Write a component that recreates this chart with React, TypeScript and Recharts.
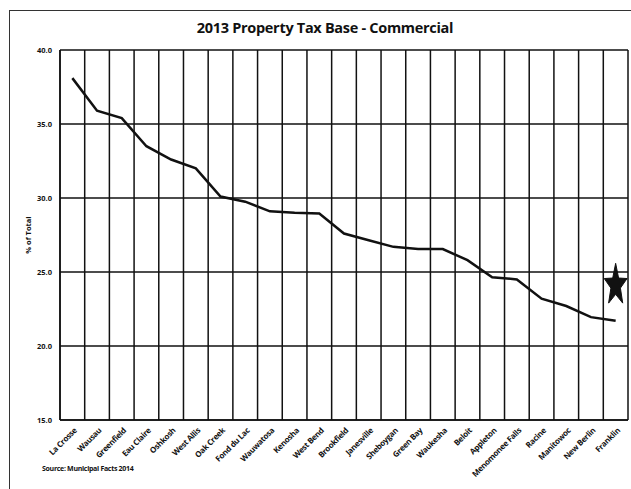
import React from 'react';
import { ComposedChart, Line, Scatter, XAxis, YAxis, CartesianGrid } from 'recharts';

const cities = ['La Crosse', 'Wausau', 'Greenfield', 'Eau Claire', 'Oshkosh', 'West Allis', 'Oak Creek', 'Fond du Lac', 'Wauwatosa', 'Kenosha', 'West Bend', 'Brookfield', 'Janesville', 'Sheboygan', 'Green Bay', 'Waukesha', 'Beloit', 'Appleton', 'Menomonee Falls', 'Racine', 'Manitowoc', 'New Berlin', 'Franklin'];
const commercialPct = [38.1, 35.9, 35.4, 33.5, 32.6, 32.0, 30.1, 29.75, 29.1, 29.0, 28.95, 27.6, 27.15, 26.7, 26.55, 26.55, 25.8, 24.65, 24.5, 23.2, 22.7, 21.95, 21.7];
const starMarker = [null, null, null, null, null, null, null, null, null, null, null, null, null, null, null, null, null, null, null, null, null, null, 24.1];
const yTicks = [15, 20, 25, 30, 35, 40];

const data = cities.map((c, i) => ({ city: c, value: commercialPct[i], star: starMarker[i] }));

const FONT = '"Open Sans", "Liberation Sans", Arial, sans-serif';

const XTick = (props: any) => {
  const { x, y, payload } = props;
  const tx = x + 5;
  const ty = y + 9;
  return (
    <text x={tx} y={ty} transform={`rotate(-45 ${tx} ${ty})`} textAnchor="end" fontSize={8} fontWeight="bold" fontFamily={FONT} fill="#111" letterSpacing={-0.3}>
      {payload.value}
    </text>
  );
};

const StarShape = (props: any) => {
  const { cx, cy } = props;
  if (cx == null || cy == null) return null;
  const rx = 12, ry = 22, irx = 5, iry = 9;
  const pts: string[] = [];
  for (let k = 0; k < 10; k++) {
    const ang = -Math.PI / 2 + (k * Math.PI) / 5;
    const outer = k % 2 === 0;
    const px = cx + Math.cos(ang) * (outer ? rx : irx);
    const py = cy + Math.sin(ang) * (outer ? ry : iry);
    pts.push(`${px},${py}`);
  }
  return <polygon points={pts.join(' ')} fill="#111" stroke="#111" strokeWidth={1} />;
};

const verticalGen = ({ offset }: any) => {
  const n = cities.length;
  const out: number[] = [];
  for (let i = 0; i <= n; i++) out.push(offset.left + (i * offset.width) / n);
  return out;
};

export default function App() {
  return (
    <div style={{ position: 'absolute', left: 0, top: 0, width: 631, height: 489, background: '#fff', overflow: 'hidden' }}>
      <div style={{ position: 'absolute', left: 9, top: 10, width: 640, height: 500, borderLeft: '1px solid #333', borderTop: '1px solid #333' }} />
      <div style={{ position: 'absolute', left: 0, top: 18, width: 650, textAlign: 'center', fontFamily: FONT, fontWeight: 'bold', fontSize: 14.5, letterSpacing: -0.3, color: '#111' }}>
        2013 Property Tax Base - Commercial
      </div>
      <div style={{ position: 'absolute', left: 42, top: 464, fontFamily: FONT, fontWeight: 'bold', fontSize: 7, letterSpacing: -0.3, color: '#111' }}>
        Source: Municipal Facts 2014
      </div>
      <ComposedChart width={631} height={489} data={data} margin={{ top: 50, right: 3, bottom: 0, left: 0 }} style={{ position: 'absolute', left: 0, top: 0 }}>
        <CartesianGrid stroke="#111" strokeWidth={1.5} verticalCoordinatesGenerator={verticalGen} />
        <XAxis dataKey="city" scale="band" interval={0} tickLine={false} tickSize={0} tickMargin={2} height={69} axisLine={{ stroke: '#111', strokeWidth: 1.5 }} tick={<XTick />} />
        <YAxis domain={[15, 40]} ticks={yTicks} width={60} tickLine={false} tickSize={0} tickMargin={8} axisLine={{ stroke: '#111', strokeWidth: 1.5 }}
          tick={{ fontSize: 7.5, fontWeight: 'bold', fontFamily: FONT, fill: '#111' }}
          tickFormatter={(v: number) => v.toFixed(1)}
          label={{ value: '% of Total', angle: -90, position: 'center', dx: -2, style: { fontSize: 7.5, fontWeight: 'bold', fontFamily: FONT, fill: '#111' } }} />
        <Line type="linear" dataKey="value" stroke="#111" strokeWidth={2.5} dot={false} isAnimationActive={false} />
        <Scatter dataKey="star" shape={<StarShape />} isAnimationActive={false} />
      </ComposedChart>
    </div>
  );
}
